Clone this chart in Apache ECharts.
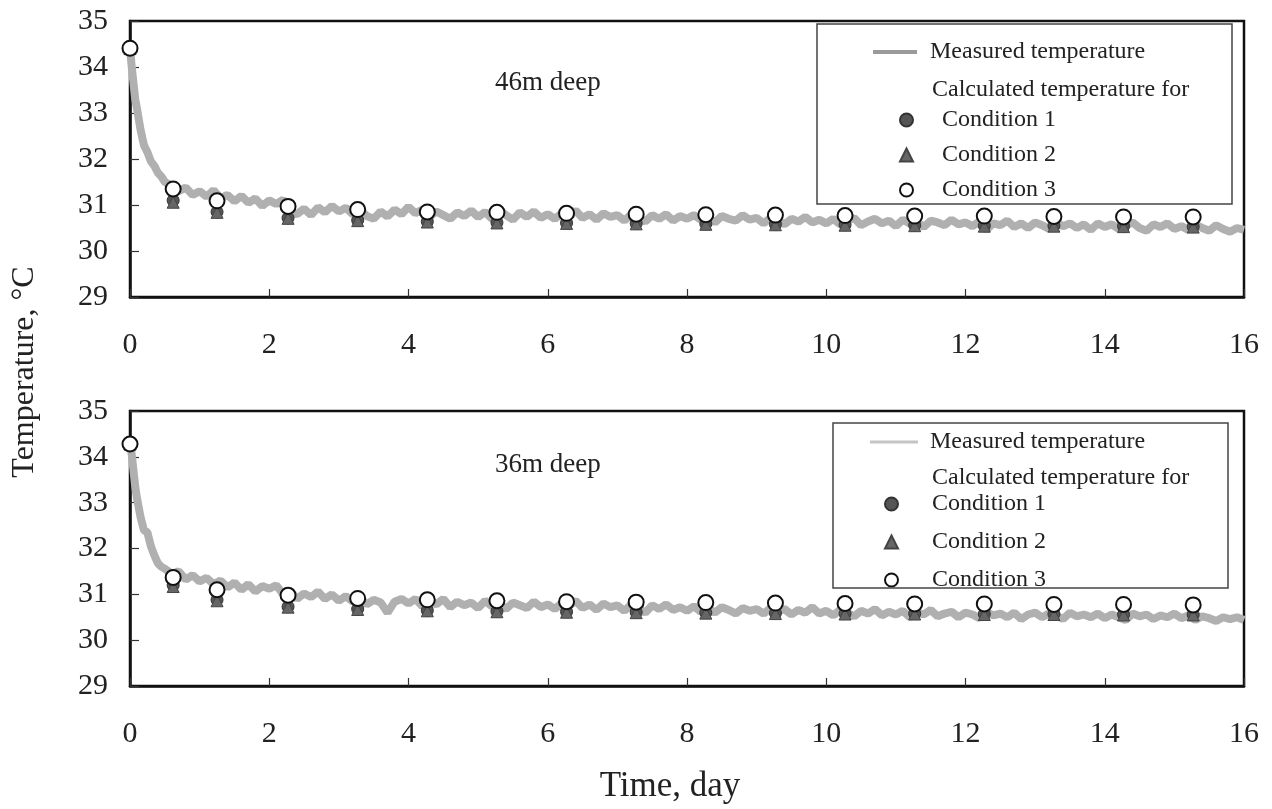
<!DOCTYPE html>
<html>
<head>
<meta charset="utf-8">
<script src="https://cdn.jsdelivr.net/npm/echarts@6/dist/echarts.min.js"></script>
<style>
html,body{margin:0;padding:0;background:#fff;}
#chart{width:1272px;height:809px;}
</style>
</head>
<body>
<div id="chart"></div>
<script>
// ---------- DATA ----------
const xTicks = [0, 2, 4, 6, 8, 10, 12, 14, 16];
const yTicks = [29, 30, 31, 32, 33, 34, 35];
const seriesNames = ['Measured temperature', 'Condition 1', 'Condition 2', 'Condition 3'];
const legendHeading = 'Calculated temperature for';
const panelLabels = ['46m deep', '36m deep'];

const measuredTime = [0,0.025,0.05,0.075,0.1,0.15,0.2,0.25,0.3,0.35,0.4,0.45,0.5,
  0.6,0.7,0.8,0.9,1.0,
  1.1,1.2,1.3,1.4,1.5,1.6,1.7,1.8,1.9,2.0,
  2.1,2.2,2.3,2.4,2.5,2.6,2.7,2.8,2.9,3.0,
  3.1,3.2,3.3,3.4,3.5,3.6,3.7,3.8,3.9,4.0,
  4.1,4.2,4.3,4.4,4.5,4.6,4.7,4.8,4.9,5.0,
  5.1,5.2,5.3,5.4,5.5,5.6,5.7,5.8,5.9,6.0,
  6.1,6.2,6.3,6.4,6.5,6.6,6.7,6.8,6.9,7.0,
  7.1,7.2,7.3,7.4,7.5,7.6,7.7,7.8,7.9,8.0,
  8.1,8.2,8.3,8.4,8.5,8.6,8.7,8.8,8.9,9.0,
  9.1,9.2,9.3,9.4,9.5,9.6,9.7,9.8,9.9,10.0,
  10.1,10.2,10.3,10.4,10.5,10.6,10.7,10.8,10.9,11.0,
  11.1,11.2,11.3,11.4,11.5,11.6,11.7,11.8,11.9,12.0,
  12.1,12.2,12.3,12.4,12.5,12.6,12.7,12.8,12.9,13.0,
  13.1,13.2,13.3,13.4,13.5,13.6,13.7,13.8,13.9,14.0,
  14.1,14.2,14.3,14.4,14.5,14.6,14.7,14.8,14.9,15.0,
  15.1,15.2,15.3,15.4,15.5,15.6,15.7,15.8,15.9,16.0];

const measured46 = [34.4,34.0,33.65,33.3,33.1,32.65,32.3,32.15,31.95,31.85,31.7,31.62,31.5,
  31.42,31.3,31.38,31.22,31.3,
  31.18,31.32,31.15,31.22,31.08,31.2,31.05,31.14,30.98,31.1,
  31.02,31.12,30.85,30.8,30.92,30.78,30.95,30.84,30.98,30.86,
  30.94,30.8,30.9,30.76,30.7,30.86,30.75,30.9,30.8,30.96,
  30.82,30.9,30.74,30.86,30.78,30.7,30.84,30.76,30.88,30.74,
  30.85,30.7,30.9,30.78,30.68,30.84,30.74,30.86,30.72,30.8,
  30.7,30.82,30.76,30.88,30.72,30.8,30.68,30.82,30.74,30.78,
  30.66,30.8,30.72,30.64,30.78,30.7,30.8,30.66,30.76,30.7,
  30.78,30.68,30.74,30.62,30.76,30.7,30.66,30.78,30.68,30.72,
  30.6,30.72,30.66,30.58,30.7,30.64,30.74,30.62,30.68,30.6,
  30.7,30.58,30.66,30.72,30.56,30.64,30.7,30.6,30.66,30.54,
  30.68,30.6,30.64,30.52,30.66,30.62,30.56,30.68,30.58,30.62,
  30.54,30.64,30.46,30.6,30.56,30.66,30.52,30.6,30.5,30.62,
  30.56,30.48,30.62,30.54,30.6,30.5,30.58,30.46,30.6,30.52,
  30.58,30.48,30.56,30.62,30.5,30.44,30.58,30.52,30.6,30.48,
  30.54,30.46,30.58,30.5,30.44,30.56,30.48,30.42,30.5,30.46];

const measured36 = [34.3,34.05,33.7,33.35,33.1,32.7,32.4,32.35,32.05,31.85,31.68,31.6,31.56,
  31.45,31.5,31.32,31.42,31.28,
  31.36,31.22,31.3,31.15,31.26,31.1,31.22,31.06,31.18,31.12,
  31.2,31.0,31.08,30.9,31.02,30.94,31.06,30.9,31.0,30.86,
  30.96,30.84,30.92,30.78,30.88,30.82,30.6,30.84,30.9,30.8,
  30.9,30.74,30.86,30.78,30.9,30.72,30.84,30.76,30.82,30.7,
  30.86,30.74,30.8,30.68,30.82,30.76,30.7,30.84,30.72,30.78,
  30.68,30.8,30.74,30.86,30.7,30.78,30.66,30.8,30.72,30.76,
  30.64,30.78,30.7,30.6,30.76,30.68,30.78,30.66,30.72,30.64,
  30.74,30.62,30.7,30.6,30.72,30.66,30.58,30.7,30.64,30.68,
  30.58,30.7,30.62,30.68,30.56,30.66,30.6,30.72,30.58,30.64,
  30.54,30.66,30.6,30.52,30.64,30.58,30.68,30.54,30.62,30.56,
  30.64,30.5,30.6,30.56,30.66,30.52,30.58,30.62,30.5,30.6,
  30.56,30.48,30.62,30.54,30.58,30.5,30.6,30.46,30.56,30.6,
  30.5,30.58,30.54,30.46,30.6,30.52,30.56,30.5,30.58,30.48,
  30.56,30.5,30.44,30.58,30.52,30.56,30.46,30.54,30.5,30.58,
  30.48,30.54,30.44,30.52,30.48,30.42,30.5,30.46,30.5,30.44];

const calcTime = [0,0.62,1.25,2.27,3.27,4.27,5.27,6.27,7.27,8.27,9.27,10.27,11.27,12.27,13.27,14.27,15.27];

const cond1_46 = [34.4,31.1,30.85,30.72,30.67,30.64,30.62,30.61,30.6,30.59,30.58,30.57,30.56,30.55,30.55,30.54,30.53];
const cond2_46 = [34.4,31.06,30.84,30.71,30.66,30.63,30.61,30.6,30.59,30.58,30.57,30.56,30.55,30.54,30.54,30.53,30.52];
const cond3_46 = [34.41,31.35,31.09,30.97,30.9,30.85,30.84,30.82,30.8,30.79,30.78,30.77,30.76,30.76,30.75,30.74,30.74];

const cond1_36 = [34.28,31.2,30.88,30.73,30.68,30.65,30.63,30.62,30.61,30.6,30.59,30.58,30.58,30.57,30.57,30.56,30.56];
const cond2_36 = [34.28,31.17,30.86,30.72,30.67,30.64,30.62,30.61,30.6,30.59,30.58,30.57,30.57,30.56,30.56,30.55,30.55];
const cond3_36 = [34.28,31.37,31.1,30.98,30.91,30.88,30.86,30.84,30.83,30.82,30.81,30.8,30.79,30.79,30.78,30.78,30.77];

// ---------- CHART ----------
const FONT = 'Liberation Serif';
const pair = (xs, ys) => xs.map((x, i) => [x, ys[i]]);

function axisPair(gridIndex) {
  return {
    x: {
      type: 'value', gridIndex: gridIndex, min: xTicks[0], max: xTicks[xTicks.length - 1], interval: 2,
      axisLine: {show: true, onZero: false, lineStyle: {color: '#111', width: 2.5}},
      axisTick: {show: true, inside: true, length: 8, lineStyle: {color: '#333', width: 1.2}},
      axisLabel: {fontFamily: FONT, fontSize: 30, color: '#222', margin: 33},
      splitLine: {show: false}
    },
    y: {
      type: 'value', gridIndex: gridIndex, min: yTicks[0], max: yTicks[yTicks.length - 1], interval: 1,
      axisLine: {show: true, onZero: false, lineStyle: {color: '#111', width: 2.5}},
      axisTick: {show: true, inside: true, length: 9, lineStyle: {color: '#333', width: 1.2}},
      axisLabel: {fontFamily: FONT, fontSize: 30, color: '#222', margin: 22},
      splitLine: {show: false}
    }
  };
}
const a0 = axisPair(0), a1 = axisPair(1);

function panelSeries(idx, meas, c1, c2, c3) {
  return [
    {name: seriesNames[0], type: 'line', xAxisIndex: idx, yAxisIndex: idx,
     data: pair(measuredTime, meas), showSymbol: false, symbol: 'none', z: 2,
     emphasis: {disabled: true},
     lineStyle: {color: '#b0b0b0', width: 8}, itemStyle: {color: '#a0a0a0'}},
    {name: seriesNames[1], type: 'scatter', xAxisIndex: idx, yAxisIndex: idx,
     data: pair(calcTime, c1), symbol: 'circle', symbolSize: 12, z: 6, clip: false,
     emphasis: {disabled: true},
     itemStyle: {color: '#555', borderColor: '#333', borderWidth: 1, opacity: 1}},
    {name: seriesNames[2], type: 'scatter', xAxisIndex: idx, yAxisIndex: idx,
     data: pair(calcTime, c2), symbol: 'triangle', symbolSize: 12, z: 7, clip: false,
     emphasis: {disabled: true},
     itemStyle: {color: '#666', borderColor: '#444', borderWidth: 1, opacity: 1}},
    {name: seriesNames[3], type: 'scatter', xAxisIndex: idx, yAxisIndex: idx,
     data: pair(calcTime, c3), symbol: 'circle', symbolSize: 15, z: 8, clip: false,
     emphasis: {disabled: true},
     itemStyle: {color: '#ffffff', borderColor: '#111', borderWidth: 2, opacity: 1}}
  ];
}

const legText = {fontFamily: FONT, fontSize: 24, color: '#222'};
const t = (pad) => Object.assign({padding: [0, 0, 0, pad]}, legText);

const option = {
  animation: false,
  backgroundColor: '#fff',
  grid: [
    {left: 130, right: 28, top: 21, height: 276, show: true, borderColor: '#111', borderWidth: 2.5, backgroundColor: 'transparent'},
    {left: 130, right: 28, top: 411, height: 275, show: true, borderColor: '#111', borderWidth: 2.5, backgroundColor: 'transparent'}
  ],
  xAxis: [a0.x, a1.x],
  yAxis: [a0.y, a1.y],
  legend: [
    {data: [{name: seriesNames[0], icon: 'rect', itemStyle: {color: '#9a9a9a'}}], left: 868, top: 35, itemWidth: 44, itemHeight: 4, selectedMode: false,
     textStyle: t(8)},
    {data: seriesNames.slice(1), left: 894, top: 103, orient: 'vertical', itemGap: 11, itemWidth: 13, itemHeight: 13, selectedMode: false,
     textStyle: t(24)},
    {data: [{name: seriesNames[0], icon: 'rect', itemStyle: {color: '#c4c4c4'}}], left: 865, top: 425, itemWidth: 48, itemHeight: 3, selectedMode: false,
     textStyle: t(7)},
    {data: seriesNames.slice(1), left: 879, top: 487, orient: 'vertical', itemGap: 14, itemWidth: 13, itemHeight: 13, selectedMode: false,
     textStyle: t(29)}
  ],
  graphic: [
    {type: 'rect', shape: {x: 817, y: 24, width: 415, height: 180}, style: {fill: 'transparent', stroke: '#444', lineWidth: 1.5}, z: 10},
    {type: 'rect', shape: {x: 833, y: 423, width: 395, height: 165}, style: {fill: 'transparent', stroke: '#444', lineWidth: 1.5}, z: 10},
    {type: 'text', x: 932, y: 90, style: {text: legendHeading, font: '24px "Liberation Serif"', fill: '#222', verticalAlign: 'middle'}, z: 10},
    {type: 'text', x: 932, y: 478, style: {text: legendHeading, font: '24px "Liberation Serif"', fill: '#222', verticalAlign: 'middle'}, z: 10},
    {type: 'text', x: 495, y: 83, style: {text: panelLabels[0], font: '27px "Liberation Serif"', fill: '#222', verticalAlign: 'middle'}, z: 10},
    {type: 'text', x: 495, y: 465, style: {text: panelLabels[1], font: '27px "Liberation Serif"', fill: '#222', verticalAlign: 'middle'}, z: 10},
    {type: 'text', x: 670, y: 787, style: {text: 'Time, day', font: '35px "Liberation Serif"', fill: '#222', align: 'center', verticalAlign: 'middle'}, z: 10},
    {type: 'text', x: 25, y: 372, rotation: Math.PI / 2, style: {text: 'Temperature, °C', font: '32px "Liberation Serif"', fill: '#222', align: 'center', verticalAlign: 'middle'}, z: 10}
  ],
  series: [].concat(
    panelSeries(0, measured46, cond1_46, cond2_46, cond3_46),
    panelSeries(1, measured36, cond1_36, cond2_36, cond3_36)
  )
};

const chart = echarts.init(document.getElementById('chart'), null, {renderer: 'canvas'});
chart.setOption(option);
</script>
</body>
</html>
